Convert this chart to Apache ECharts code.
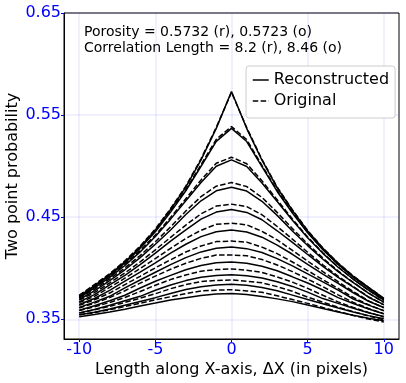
<!DOCTYPE html>
<html>
<head>
<meta charset="utf-8">
<script src="https://cdn.jsdelivr.net/npm/echarts@6/dist/echarts.min.js"></script>
<style>
  html, body { margin: 0; padding: 0; background: #fff; }
  #main_1 { width: 406px; height: 383px; }
</style>
</head>
<body>
<div id="main_1"></div>
<script>
// lag along x, one row per y offset (0..10)
const lags = [-10, -9, -8, -7, -6, -5, -4, -3, -2, -1, 0, 1, 2, 3, 4, 5, 6, 7, 8, 9, 10];

const reconstructed = [
  [.3725, .3830, .3937, .4062, .4207, .4375, .4575, .4794, .5062, .5370, .5732, .5368, .5058, .4788, .4567, .4365, .4195, .4048, .3921, .3812, .3705],
  [.3722, .3824, .3930, .4053, .4195, .4358, .4550, .4759, .4999, .5243, .5370, .5241, .4995, .4752, .4541, .4347, .4182, .4038, .3912, .3804, .3700],
  [.3711, .3807, .3911, .4027, .4160, .4310, .4481, .4661, .4840, .4999, .5062, .4997, .4835, .4654, .4471, .4298, .4146, .4010, .3892, .3785, .3687],
  [.3694, .3779, .3879, .3985, .4104, .4235, .4375, .4526, .4661, .4759, .4794, .4756, .4656, .4518, .4365, .4222, .4088, .3967, .3858, .3756, .3668],
  [.3671, .3741, .3836, .3930, .4036, .4149, .4265, .4375, .4481, .4550, .4575, .4547, .4475, .4367, .4254, .4135, .4019, .3910, .3814, .3716, .3643],
  [.3645, .3704, .3784, .3873, .3961, .4053, .4149, .4235, .4310, .4358, .4375, .4355, .4304, .4226, .4137, .4038, .3943, .3852, .3760, .3677, .3615],
  [.3617, .3668, .3725, .3807, .3885, .3961, .4036, .4104, .4160, .4195, .4207, .4192, .4154, .4094, .4023, .3945, .3866, .3785, .3699, .3639, .3585],
  [.3589, .3632, .3681, .3736, .3807, .3873, .3930, .3985, .4027, .4053, .4062, .4050, .4020, .3975, .3916, .3856, .3787, .3712, .3654, .3601, .3555],
  [.3563, .3596, .3637, .3681, .3725, .3784, .3836, .3879, .3911, .3930, .3937, .3926, .3904, .3868, .3822, .3766, .3703, .3656, .3608, .3564, .3527],
  [.3544, .3570, .3601, .3638, .3675, .3712, .3752, .3791, .3819, .3837, .3843, .3833, .3811, .3780, .3737, .3693, .3652, .3611, .3571, .3536, .3506],
  [.3526, .3547, .3572, .3599, .3630, .3659, .3689, .3712, .3732, .3748, .3753, .3744, .3724, .3700, .3673, .3639, .3606, .3571, .3540, .3511, .3486]
];

const original = [
  [.3735, .3840, .3947, .4072, .4217, .4385, .4585, .4804, .5072, .5380, .5723, .5377, .5066, .4795, .4573, .4370, .4199, .4051, .3923, .3813, .3705],
  [.3732, .3835, .3941, .4064, .4206, .4370, .4563, .4772, .5015, .5263, .5388, .5260, .5008, .4762, .4549, .4353, .4186, .4040, .3914, .3804, .3698],
  [.3722, .3819, .3923, .4040, .4174, .4325, .4498, .4681, .4865, .5028, .5087, .5024, .4857, .4670, .4483, .4306, .4151, .4013, .3893, .3785, .3684],
  [.3707, .3794, .3895, .4003, .4125, .4260, .4405, .4560, .4702, .4804, .4840, .4800, .4694, .4547, .4388, .4239, .4100, .3974, .3861, .3756, .3665],
  [.3687, .3761, .3857, .3954, .4062, .4180, .4303, .4423, .4533, .4609, .4628, .4604, .4524, .4409, .4285, .4157, .4034, .3922, .3820, .3720, .3641],
  [.3663, .3725, .3812, .3903, .3997, .4095, .4195, .4292, .4372, .4430, .4441, .4425, .4362, .4277, .4175, .4070, .3967, .3868, .3772, .3680, .3613],
  [.3637, .3691, .3757, .3840, .3921, .4004, .4083, .4159, .4218, .4261, .4266, .4256, .4207, .4143, .4061, .3977, .3889, .3802, .3714, .3642, .3583],
  [.3611, .3658, .3712, .3780, .3854, .3923, .3990, .4049, .4097, .4129, .4130, .4123, .4085, .4032, .3967, .3894, .3819, .3739, .3666, .3606, .3553],
  [.3585, .3622, .3665, .3714, .3772, .3834, .3889, .3934, .3971, .3987, .3993, .3981, .3959, .3915, .3864, .3803, .3735, .3671, .3615, .3566, .3523],
  [.3561, .3592, .3627, .3665, .3707, .3750, .3800, .3840, .3870, .3880, .3885, .3873, .3857, .3820, .3774, .3717, .3667, .3619, .3574, .3533, .3495],
  [.3544, .3565, .3594, .3625, .3657, .3691, .3721, .3751, .3778, .3785, .3790, .3778, .3764, .3730, .3693, .3656, .3615, .3576, .3538, .3502, .3474]
];

const xTicks = [-10, -5, 0, 5, 10];
const yTicks = [0.35, 0.45, 0.55, 0.65];
const noteLines = ["Porosity = 0.5732 (r), 0.5723 (o)", "Correlation Length = 8.2 (r), 8.46 (o)"];

const font = "DejaVu Sans";
const gridColor = "rgba(0,0,255,0.08)";

function makeSeries(rows, name, type) {
  return rows.map(row => ({
    name: name,
    type: "line",
    data: lags.map((x, i) => [x, row[i]]),
    symbol: "none",
    silent: true,
    animation: false,
    itemStyle: { color: "#000" },
    lineStyle: { color: "#000", width: 1.5, type: type }
  }));
}

const chartDom = document.getElementById("main_1");
const myChart = echarts.init(chartDom, null, { renderer: "canvas" });

const option = {
  backgroundColor: "#fff",
  animation: false,
  textStyle: { fontFamily: font },
  grid: {
    left: 64, top: 13, width: 335, height: 326,
    containLabel: false, outerBoundsMode: "none",
    show: true, borderColor: "#000", borderWidth: 1, backgroundColor: "transparent"
  },
  xAxis: {
    type: "value",
    min: -11, max: 11,
    name: "Length along X-axis, \u0394X (in pixels)",
    nameLocation: "middle",
    nameGap: 23,
    nameMoveOverlap: false,
    nameTextStyle: { fontSize: 16, color: "#000", fontFamily: font },
    axisLine: { show: true, onZero: false, lineStyle: { color: "#000", width: 1 } },
    axisTick: { show: true, length: 3, lineStyle: { color: "#0000ff" }, customValues: xTicks },
    axisLabel: { fontSize: 16, color: "#0000ff", margin: 3, fontFamily: font, customValues: xTicks },
    splitLine: { show: true, lineStyle: { color: gridColor, width: 1.5 } }
  },
  yAxis: {
    type: "value",
    min: 0.3307, max: 0.65,
    name: "Two point probability",
    nameLocation: "middle",
    nameGap: 43,
    nameMoveOverlap: false,
    nameTextStyle: { fontSize: 16, color: "#000", fontFamily: font },
    axisLine: { show: true, onZero: false, lineStyle: { color: "#000", width: 1 } },
    axisTick: { show: true, length: 3, lineStyle: { color: "#0000ff" }, customValues: yTicks },
    axisLabel: { fontSize: 16, color: "#0000ff", margin: 3, fontFamily: font, customValues: yTicks,
      formatter: v => v.toFixed(2) },
    splitLine: { show: true, lineStyle: { color: gridColor, width: 1.5 } }
  },
  legend: {
    data: [{ name: "Reconstructed" }, { name: "Original" }],
    orient: "vertical",
    left: 246, top: 66,
    padding: [6, 6, 9, 6],
    itemWidth: 16, itemHeight: 10, itemGap: 5,
    backgroundColor: "#fff",
    borderColor: "#cccccc", borderWidth: 1, borderRadius: 3,
    selectedMode: false,
    itemStyle: { color: "transparent", borderWidth: 0, opacity: 0 },
    lineStyle: { color: "#000", width: 1.5 },
    textStyle: { fontSize: 16, color: "#000", fontFamily: font, lineHeight: 16 }
  },
  graphic: [{
    type: "text",
    left: 84, top: 24,
    style: { text: noteLines.join("\n"), font: "14px " + font, fill: "#000", lineHeight: 16 }
  }],
  series: makeSeries(reconstructed, "Reconstructed", "solid")
    .concat(makeSeries(original, "Original", [5.5, 2.4]))
};

option && myChart.setOption(option);
</script>
</body>
</html>
